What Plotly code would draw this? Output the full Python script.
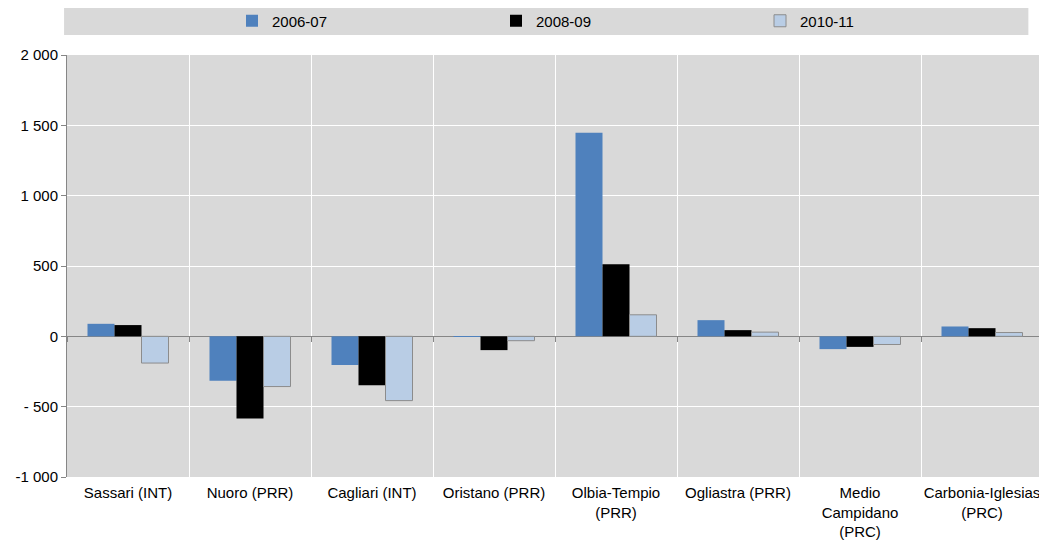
import plotly.graph_objects as go

# Provinces of Sardinia and the three periods
categories = [
    "Sassari (INT)",
    "Nuoro (PRR)",
    "Cagliari (INT)",
    "Oristano (PRR)",
    "Olbia-Tempio<br>(PRR)",
    "Ogliastra (PRR)",
    "Medio<br>Campidano<br>(PRC)",
    "Carbonia-Iglesias<br>(PRC)",
]
series_names = ["2006-07", "2008-09", "2010-11"]
values_2006_07 = [89, -315, -204, -3, 1448, 115, -91, 70]
values_2008_09 = [80, -585, -348, -98, 513, 44, -75, 58]
values_2010_11 = [-190, -357, -457, -31, 153, 30, -58, 27]

y_tickvals = [-1000, -500, 0, 500, 1000, 1500, 2000]
y_ticktext = ["-1 000", "- 500", "0", "500", "1 000", "1 500", "2 000"]

FONT = "Liberation Sans, Arial, sans-serif"
FONT_SIZE = 15
BG = "#d9d9d9"
AXIS_GREY = "#868686"

# the page body adds an 8px margin, so the figure is a bit smaller
W, H = 1039, 534

styles = [
    dict(color="#4f81bd", line=dict(color="#4f81bd", width=0)),
    dict(color="#000000", line=dict(color="#000000", width=0)),
    dict(color="#b9cde5", line=dict(color="#8c8c8c", width=1)),
]

fig = go.Figure()
for name, vals, marker in zip(
    series_names, [values_2006_07, values_2008_09, values_2010_11], styles
):
    fig.add_trace(go.Bar(x=categories, y=vals, name=name, marker=marker))

# invisible trace so the overlay axis (tick marks on the zero line) gets drawn
fig.add_trace(
    go.Scatter(
        x=categories,
        y=[0] * len(categories),
        mode="none",
        xaxis="x2",
        showlegend=False,
        hoverinfo="skip",
    )
)

y_min, y_max = -1000, 2000

fig.update_layout(
    width=W,
    height=H,
    margin=dict(l=59, r=4, t=47, b=65),
    paper_bgcolor="white",
    plot_bgcolor=BG,
    font=dict(family=FONT, size=FONT_SIZE, color="black"),
    barmode="group",
    bargap=0.336,
    bargroupgap=0,
    showlegend=True,
    legend=dict(
        orientation="h",
        xref="container",
        yref="container",
        x=224 / W,
        xanchor="left",
        y=1 - 13 / H,
        yanchor="middle",
        bgcolor="rgba(0,0,0,0)",
        entrywidth=219,
        entrywidthmode="pixels",
        itemwidth=30,
        font=dict(family=FONT, size=FONT_SIZE),
        traceorder="normal",
    ),
    xaxis=dict(
        type="category",
        automargin=False,
        range=[-0.5, len(categories) - 0.5],
        tickson="boundaries",
        tickangle=0,
        showgrid=True,
        gridcolor="white",
        gridwidth=1,
        ticks="",
        showline=False,
        zeroline=False,
        ticklabelstandoff=5,
        tickfont=dict(family=FONT, size=FONT_SIZE),
    ),
    xaxis2=dict(
        type="category",
        automargin=False,
        overlaying="x",
        anchor="free",
        position=(0 - y_min) / (y_max - y_min),
        range=[-0.5, len(categories) - 0.5],
        tickson="boundaries",
        ticks="outside",
        ticklen=5,
        tickcolor=AXIS_GREY,
        showticklabels=False,
        showgrid=False,
        showline=False,
        zeroline=False,
    ),
    yaxis=dict(
        automargin=False,
        range=[y_min, y_max],
        tickvals=y_tickvals,
        ticktext=y_ticktext,
        showgrid=True,
        gridcolor="white",
        gridwidth=1,
        zeroline=True,
        zerolinecolor=AXIS_GREY,
        zerolinewidth=1,
        showline=True,
        linecolor=AXIS_GREY,
        linewidth=1,
        ticks="outside",
        ticklen=5,
        tickcolor=AXIS_GREY,
        tickfont=dict(family=FONT, size=FONT_SIZE),
    ),
    shapes=[
        dict(
            type="rect",
            xref="paper",
            yref="paper",
            x0=-0.003,
            x1=0.985,
            y0=1.0474,
            y1=1.1114,
            fillcolor=BG,
            line=dict(width=0),
            layer="below",
        )
    ],
)

fig.write_html("out.html")
